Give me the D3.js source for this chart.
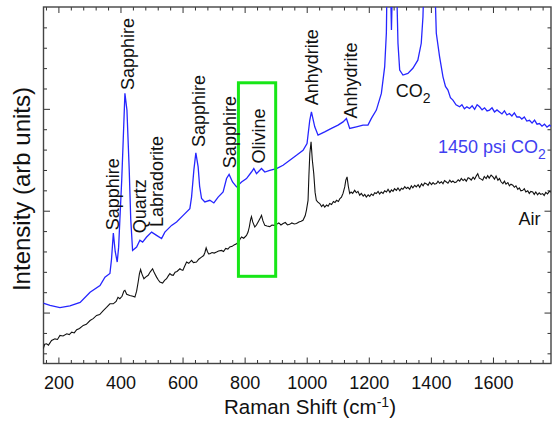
<!DOCTYPE html>
<html>
<head>
<meta charset="utf-8">
<script src="https://cdn.jsdelivr.net/npm/d3@7.9.0/dist/d3.min.js"></script>
<style>
  body { margin: 0; background: #fff; }
  svg { display: block; font-family: "Liberation Sans", Arial, sans-serif; }
</style>
</head>
<body>
<svg id="chart" width="553" height="433"></svg>
<script>
// Raman spectra, 1450 psi CO2 vs air
const co2Shift = [151,173,205,237,270,302,334,350,366,371,377,383,389.5,394,398,404,408.8,414.3,420.8,428.2,433,439,452,462.6,471.3,484.2,500.3,516.3,532.4,543,564.6,580.7,602,623.5,629,636.4,642.8,650.2,655,661.2,671.8,687.9,700.8,714.6,730.7,741.7,750,761,773.8,790,806,822,829.5,838.2,854.3,865,881,902.6,923.8,945.4,967,988.2,1001,1009.8,1015.2,1025.9,1036.5,1058,1079.6,1100.9,1117,1128,1138.5,1160,1181.3,1197.4,1208.3,1224.4,1240.5,1251.2,1256.6,1259,1265,1270,1273,1276,1282,1289,1294,1299.5,1310,1326,1342,1358,1369,1374.5,1379,1390,1405,1413,1417.5,1428,1439,1447,1455,1463,1471,1481,1492.5,1500,1508,1516,1524.7,1533,1541,1549,1557,1565,1573,1581,1589,1597,1605,1613,1621,1629,1637,1645,1653,1661,1669,1677,1685.6,1693,1701,1709,1717.8,1726,1734,1742,1750,1758,1766,1774,1782,1787];
const co2Counts = [2.46,2.35,2.24,2.33,2.50,3.00,3.33,3.74,3.92,4.6,5.90,5.0,4.48,5.2,6.53,8.5,10.46,12.76,11.94,8.99,6.6,5.05,5.22,5.55,5.46,5.71,5.95,5.79,5.63,5.95,6.28,6.45,6.77,7.10,7.67,8.99,9.84,9.15,8.2,7.60,7.43,7.51,7.38,7.67,7.92,8.58,8.78,8.41,8.17,8.41,8.58,8.90,9.07,8.82,9.07,8.90,8.98,9.07,9.23,9.48,9.72,9.97,10.30,11.44,11.85,11.12,10.71,10.87,11.04,11.20,11.36,11.53,11.04,11.12,11.20,11.20,11.53,11.94,12.76,14.07,15.72,18.5,21,18,15.87,18,21,18.5,15.22,13.90,13.66,13.74,13.99,14.39,15.22,16.52,19,22,22,18,15.71,14.56,13.57,13.1,12.92,12.55,12.43,12.2,12.10,12.2,12.0,12.1,12.02,12.15,11.98,12.2,12.10,11.95,12.05,11.9,11.94,12.05,11.85,11.95,11.85,11.75,11.9,11.7,11.77,11.65,11.8,11.6,11.61,11.5,11.6,11.4,11.44,11.3,11.45,11.25,11.28,11.15,11.25,11.1,11.20,11.15];

const airShift = [151,156,162,168,178,189,197,205,215,227,235,243,251,259,268,280,290,302,312,323,333,344.5,355,366,376.7,386,392,398,405,411,414.3,420,430,440,446.5,452,457,461,464.8,469,475.5,482,489.3,496,503.5,509,516.3,522,527,535.7,542,548.5,554,559.2,564,570,576,582,591.4,596,601,606,613,620,629,635,645,652,661,668,672,676,680,684,688,695,702,709.5,716,725.6,732,739,746,752,760,766,774,780,785,790,797,806,811,815,819,822,826,832.7,838,843.4,849,854.3,859,865,872,881,888,895,902.6,910,917,924,931,938,945,952,960,967,975,982,988,995,999,1004.3,1007,1010,1014,1018,1022.7,1027,1031,1036,1042,1048,1053,1058,1064,1069,1074,1080,1086,1091,1096,1102,1107,1112,1117,1122.5,1126,1130,1134,1138.5,1143,1148,1154.6,1160,1165,1170.7,1176,1182,1187,1192,1198,1203,1208,1214,1219,1224,1230,1235,1240,1246,1251,1257,1262,1268,1273,1278,1283,1289,1294,1300,1305,1310,1316,1321,1326,1332,1337,1342,1348,1353,1359,1364,1370,1375,1380,1385,1391,1396,1402,1407,1412,1418,1423,1428,1434,1439,1444,1450,1455,1461,1466,1471,1477,1482,1488,1493,1498,1504,1509,1514,1520,1525,1530,1536,1541,1546,1551,1556,1562,1567,1572,1578,1583,1588,1594,1600,1605,1610,1616,1621,1626,1632,1637,1642,1648,1653,1658,1664,1669,1674,1680,1685,1690,1696,1701,1706,1712,1717,1722,1728,1733,1738,1744,1749,1754,1760,1765,1770,1776,1781,1787];
const airCounts = [0.22,0.45,0.47,0.40,0.63,0.71,0.68,0.88,0.85,0.96,0.92,1.04,1.00,1.16,1.22,1.37,1.42,1.61,1.70,1.86,1.90,2.10,2.25,2.43,2.43,2.55,2.75,2.68,2.80,3.05,3.09,2.90,2.84,2.80,2.76,3.05,3.50,3.9,4.11,3.9,3.66,3.75,3.83,4.0,4.15,3.95,3.74,3.6,3.50,3.45,3.58,3.66,3.8,3.91,3.85,3.83,3.98,4.02,4.15,4.10,4.07,4.25,4.48,4.42,4.56,4.45,4.48,4.62,4.72,4.80,4.95,5.18,5.0,4.88,4.89,4.95,4.92,4.97,5.02,5.05,5.0,5.15,5.12,5.22,5.25,5.32,5.38,5.45,5.6,5.71,5.65,5.79,5.95,6.2,6.55,6.71,6.45,6.20,6.3,6.45,6.6,6.77,6.5,6.28,6.25,6.22,6.3,6.28,6.33,6.4,6.3,6.37,6.42,6.3,6.33,6.4,6.35,6.37,6.45,6.48,6.53,6.75,7.02,7.51,8.7,9.81,10.38,9.5,8.82,7.9,7.51,7.42,7.35,7.2,7.3,7.18,7.28,7.22,7.35,7.3,7.45,7.4,7.51,7.45,7.6,7.67,7.85,8.17,8.5,8.66,8.2,7.84,7.92,7.85,8.00,7.88,7.95,7.76,7.85,7.72,7.80,7.67,7.78,7.70,7.82,7.75,7.88,7.84,7.95,7.82,7.92,7.85,7.98,7.92,8.05,7.90,8.02,7.95,8.08,8.00,8.12,7.98,8.10,8.05,8.18,8.09,8.15,8.05,8.22,8.12,8.25,8.17,8.28,8.15,8.32,8.22,8.36,8.33,8.25,8.40,8.28,8.38,8.30,8.33,8.45,8.35,8.42,8.32,8.48,8.41,8.35,8.50,8.40,8.46,8.38,8.41,8.52,8.45,8.58,8.48,8.55,8.45,8.62,8.58,8.50,8.65,8.55,8.70,8.82,8.60,8.55,8.50,8.68,8.58,8.72,8.60,8.75,8.66,8.55,8.70,8.50,8.58,8.42,8.33,8.45,8.30,8.38,8.22,8.30,8.25,8.15,8.22,8.05,8.12,7.98,8.00,8.08,7.92,7.98,7.85,7.95,7.92,7.80,7.92,7.78,7.88,7.80,7.84,7.75,7.90,7.82,7.95,7.92];

const xMajorTicks = [200, 400, 600, 800, 1000, 1200, 1400, 1600];
const peakNames = ["Sapphire", "Sapphire", "Quartz", "Labradorite", "Sapphire", "Sapphire", "Olivine", "Anhydrite", "Anhydrite"];
const olivineWindow = [780, 900];

// where each rotated label sits (shift, intensity of its bottom end)
const peakLabelPos = [[396, 6.04], [445, 12.92], [482, 5.89], [537.6, 6.2], [672, 10.13], [771.6, 9.09], [865, 9.32], [1036.5, 12.18], [1162, 11.53]];

const svg = d3.select("#chart");
const padL = 43.5, padR = 551, padT = 7, padB = 363.5;

const x = d3.scaleLinear().domain([152, 1787]).range([padL, padR]);
const y = d3.scaleLinear().domain([-0.5, 17]).range([padB, padT]);

svg.append("defs").append("clipPath").attr("id", "plotclip")
  .append("rect").attr("x", padL).attr("y", padT).attr("width", padR - padL).attr("height", padB - padT);

// axes, ticks pointing inward
const minorX = d3.range(160, 1787, 40).filter(d => d % 200 !== 0);
const yTicks = d3.range(0, 17);
const majorY = [2, 7, 12];
const tickColor = "#333";

function styleAxis(g) {
  g.select(".domain").remove();
  g.selectAll(".tick line").attr("stroke", tickColor).attr("stroke-width", 1);
}

svg.append("g").attr("transform", `translate(0,${padB})`)
  .call(d3.axisBottom(x).tickValues(minorX).tickSize(-3.5).tickFormat(""))
  .call(styleAxis);
svg.append("g").attr("transform", `translate(0,${padB})`)
  .call(d3.axisBottom(x).tickValues(xMajorTicks).tickSize(-6).tickPadding(13.2).tickFormat(d3.format("d")))
  .call(styleAxis)
  .call(g => g.selectAll("text").attr("fill", "#111").attr("font-size", 18).style("font-family", "Liberation Sans, Arial, sans-serif"));
svg.append("g").attr("transform", `translate(0,${padT})`)
  .call(d3.axisTop(x).tickValues(minorX).tickSize(-3.5).tickFormat(""))
  .call(styleAxis);
svg.append("g").attr("transform", `translate(0,${padT})`)
  .call(d3.axisTop(x).tickValues(xMajorTicks).tickSize(-6).tickFormat(""))
  .call(styleAxis);

[[d3.axisLeft, padL], [d3.axisRight, padR]].forEach(([ax, pos]) => {
  svg.append("g").attr("transform", `translate(${pos},0)`)
    .call(ax(y).tickValues(yTicks.filter(d => !majorY.includes(d))).tickSize(-3.5).tickFormat(""))
    .call(styleAxis);
  svg.append("g").attr("transform", `translate(${pos},0)`)
    .call(ax(y).tickValues(majorY).tickSize(-6.5).tickFormat(""))
    .call(styleAxis);
});

svg.append("rect")
  .attr("x", padL).attr("y", padT).attr("width", padR - padL).attr("height", padB - padT)
  .attr("fill", "none").attr("stroke", "#444").attr("stroke-width", 1.4);

// spectra
const plot = svg.append("g").attr("clip-path", "url(#plotclip)");
const line = d3.line().x(d => x(d[0])).y(d => y(d[1]));

plot.append("path")
  .datum(airShift.map((s, i) => [s, airCounts[i]]))
  .attr("d", line).attr("fill", "none").attr("stroke", "#111").attr("stroke-width", 1.1);
plot.append("path")
  .datum(co2Shift.map((s, i) => [s, co2Counts[i]]))
  .attr("d", line).attr("fill", "none").attr("stroke", "#2626ff").attr("stroke-width", 1.3);

// olivine box
svg.append("rect")
  .attr("x", x(olivineWindow[0])).attr("y", y(13.28))
  .attr("width", x(olivineWindow[1]) - x(olivineWindow[0]))
  .attr("height", y(3.78) - y(13.28))
  .attr("fill", "none").attr("stroke", "#17e617").attr("stroke-width", 3);

// peak labels
peakNames.forEach((name, i) => {
  const [s, v] = peakLabelPos[i];
  svg.append("text")
    .attr("transform", `translate(${x(s)},${y(v)}) rotate(-90)`)
    .attr("font-size", 18).attr("fill", "#111")
    .text(name);
});

// CO2 label
const co2 = svg.append("text").attr("x", x(1286.6)).attr("y", y(12.59))
  .attr("font-size", 18).attr("fill", "#111");
co2.append("tspan").text("CO");
co2.append("tspan").attr("font-size", 14).attr("dy", 6).text("2");

// series labels
const blueLab = svg.append("text").attr("x", x(1422.7)).attr("y", y(9.84))
  .attr("font-size", 18).attr("fill", "#4040f0");
blueLab.append("tspan").text("1450 psi CO");
blueLab.append("tspan").attr("font-size", 14).attr("dy", 6).text("2");

svg.append("text").attr("x", x(1682.4)).attr("y", y(6.28))
  .attr("font-size", 18).attr("fill", "#111").text("Air");

// axis titles
const xt = svg.append("text").attr("x", 310).attr("y", 414)
  .attr("text-anchor", "middle").attr("font-size", 20.5).attr("fill", "#111");
xt.append("tspan").text("Raman Shift (cm");
xt.append("tspan").attr("font-size", 14).attr("dy", -7.5).text("-1");
xt.append("tspan").attr("dy", 7.5).text(")");

svg.append("text")
  .attr("transform", "translate(30,189) rotate(-90)")
  .attr("text-anchor", "middle").attr("font-size", 24).attr("fill", "#111")
  .text("Intensity (arb units)");
</script>
</body>
</html>
